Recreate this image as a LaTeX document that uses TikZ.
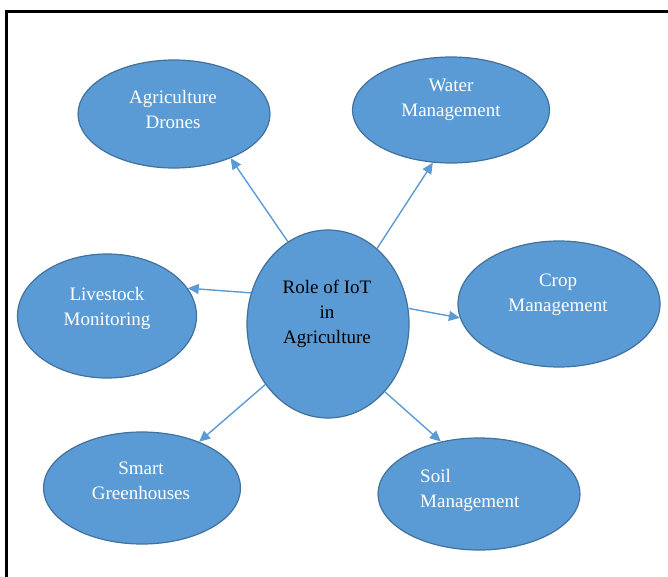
\documentclass[tikz,border=0pt]{standalone}
\usepackage{fontspec}
\setmainfont{Liberation Serif}
\usetikzlibrary{shapes.geometric,arrows.meta}
\definecolor{bleu}{HTML}{5B9BD5}
\definecolor{bord}{HTML}{41719C}
\begin{document}
\begin{tikzpicture}[x=1pt,y=-1pt,
	bulle/.style={ellipse,draw=bord,line width=1.2pt,fill=bleu,inner sep=0pt},
	txt/.style={align=center,font=\fontsize{19}{25}\selectfont,inner sep=0pt,text=white},
	fl/.style={draw=bleu,line width=1.4pt,-{Triangle[length=11pt,width=10pt]}}]
	\useasboundingbox (0,0) rectangle (668,577);
	\draw[line width=3pt] (6,577) -- (6,12) -- (668,12);
	% ellipses
	\node[bulle,minimum width=162pt,minimum height=188pt] (Ro) at (328,324) {};
	\node[bulle,minimum width=192pt,minimum height=108pt] (Dr) at (174,114) {};
	\node[bulle,minimum width=197pt,minimum height=106pt] (Wa) at (451,110) {};
	\node[bulle,minimum width=202pt,minimum height=126pt] (Cr) at (559,304) {};
	\node[bulle,minimum width=179pt,minimum height=124pt] (Li) at (107,316) {};
	\node[bulle,minimum width=197pt,minimum height=112pt] (Sm) at (142,488) {};
	\node[bulle,minimum width=202pt,minimum height=112pt] (So) at (479,494) {};
	% texts
	\node[txt,text=black] (RoT) at (327,314) {Role of IoT\\in\\Agriculture};
	\node[txt] (DrT) at (173,110) {Agriculture\\Drones};
	\node[txt] (WaT) at (451,100) {Water\\Management};
	\node[txt] (CrT) at (558,295) {Crop\\Management};
	\node[txt] (LiT) at (107,308) {Livestock\\Monitoring};
	\node[txt] (SmT) at (141,481) {Smart\\Greenhouses};
	\node[txt,align=left,anchor=west] (SoT) at (420,490) {Soil\\Management};
	% arrows
	\draw[fl] (Ro.116) -- (Dr.-38);
	\draw[fl] (Ro.57) -- (Wa.-109);
	\draw[fl] (Ro.158) -- (Li.19);
	\draw[fl] (Ro.11) -- (Cr.-172);
	\draw[fl] (Ro.224) -- (Sm.39);
	\draw[fl] (Ro.-50) -- (So.126);
\end{tikzpicture}
\end{document}
